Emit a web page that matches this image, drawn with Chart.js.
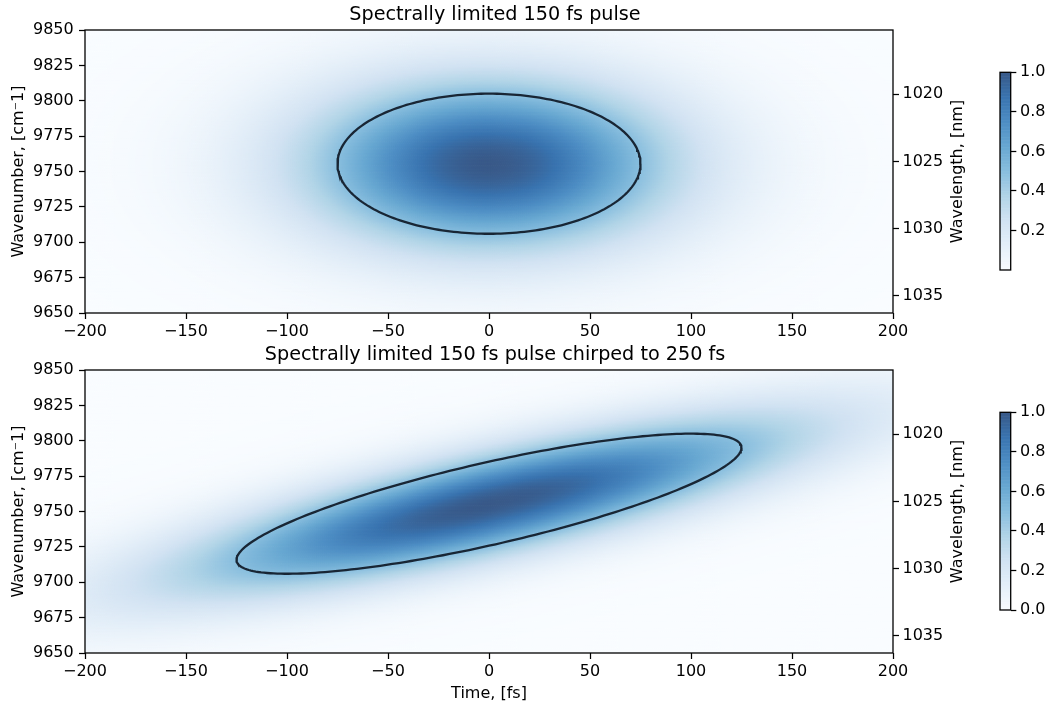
<!DOCTYPE html>
<html><head><meta charset="utf-8">
<script src="https://cdn.jsdelivr.net/npm/chart.js@4.4.1/dist/chart.umd.min.js"></script>
<style>
html,body{margin:0;padding:0;background:#fff;width:1053px;height:709px;overflow:hidden;position:relative;}
canvas{position:absolute;}
</style></head><body>
<canvas id="p1" width="990" height="345" style="left:0;top:0"></canvas>
<canvas id="p2" width="990" height="369" style="left:0;top:340px"></canvas>
<canvas id="cb1" width="73" height="240" style="left:980px;top:50px"></canvas>
<canvas id="cb2" width="73" height="240" style="left:980px;top:390px"></canvas>
<script>
// ---------- data ----------
const panelTitles = ['Spectrally limited 150 fs pulse', 'Spectrally limited 150 fs pulse chirped to 250 fs'];
const timeRange = [-200, 200];                 // fs
const wavenumberRange = [9650, 9850];          // cm^-1
const timeTicks = [-200, -150, -100, -50, 0, 50, 100, 150, 200];
const wavenumberTicks = [9650, 9675, 9700, 9725, 9750, 9775, 9800, 9825, 9850];
const wavelengthTicks = [1020, 1025, 1030, 1035];
const colorbarTicks = [[0.2, 0.4, 0.6, 0.8, 1.0], [0.0, 0.2, 0.4, 0.6, 0.8, 1.0]];
const colorbarMin = [0.0003, 0.0];
const centerTime = 0;                          // fs
const centerWavenumber = 9755.5;               // cm^-1
const transformLimitedFWHM = 150;              // fs
const pulseFWHM = [150, 250];                  // fs, per panel
const spectralFWHM = 99;                       // cm^-1
const timeStep = 1, wavenumberStep = 1;        // heatmap cell size

// ---------- helpers ----------
Chart.defaults.font.family = "'DejaVu Sans', sans-serif";
Chart.defaults.font.size = 16;
Chart.defaults.color = '#000';

const BLUES = [[247,251,255],[222,235,247],[198,219,239],[158,202,225],[107,174,214],[66,146,198],[33,113,181],[8,81,156],[8,48,107]];
const cmapAlpha = 0.8;
function cmap(f) {
  f = Math.min(1, Math.max(0, f));
  const p = f * (BLUES.length - 1);
  const k = Math.min(BLUES.length - 2, Math.floor(p));
  const u = p - k;
  const c = BLUES[k].map((v, j) => v + (BLUES[k + 1][j] - v) * u);
  return 'rgb(' + c.map(v => Math.round(v * cmapAlpha + 255 * (1 - cmapAlpha))).join(',') + ')';
}
function pulseModel(i) {
  const a0 = transformLimitedFWHM / 2, B = spectralFWHM / 2;
  const a = pulseFWHM[i] / 2;
  const b = B * a0 / a;
  const beta = Math.sqrt(Math.max(0, B * B - b * b)) / a;
  return {a, b, beta};
}
function intensity(m, t, w) {
  const dt = t - centerTime;
  const dw = w - centerWavenumber - m.beta * dt;
  return Math.exp(-Math.LN2 * (dt * dt / (m.a * m.a) + dw * dw / (m.b * m.b)));
}
const timeGrid = [];
for (let t = timeRange[0]; t <= timeRange[1]; t += timeStep) timeGrid.push(t);
const wavenumberGrid = [];
for (let w = wavenumberRange[0]; w <= wavenumberRange[1]; w += wavenumberStep) wavenumberGrid.push(w);

function halfMaxContour(i) {
  const m = pulseModel(i), pts = [];
  for (let k = 0; k <= 240; k++) {
    const th = 2 * Math.PI * k / 240;
    const t = centerTime + m.a * Math.cos(th);
    pts.push({x: t, y: centerWavenumber + m.beta * (t - centerTime) + m.b * Math.sin(th)});
  }
  return pts;
}
const minus = v => (v < 0 ? '\u2212' + Math.abs(v) : String(v));

function heatmapPlugin(i) {
  const m = pulseModel(i);
  return {
    id: 'heatmap' + i,
    beforeDatasetsDraw(chart) {
      const {ctx, chartArea: ca, scales: {x, y}} = chart;
      ctx.save();
      ctx.beginPath(); ctx.rect(ca.left, ca.top, ca.right - ca.left, ca.bottom - ca.top); ctx.clip();
      const vmin = colorbarMin[i];
      const xe = timeGrid.map(t => [x.getPixelForValue(t - timeStep / 2), x.getPixelForValue(t + timeStep / 2)]);
      for (const w of wavenumberGrid) {
        const y0 = y.getPixelForValue(w + wavenumberStep / 2), y1 = y.getPixelForValue(w - wavenumberStep / 2);
        timeGrid.forEach((t, k) => {
          const v = intensity(m, t, w);
          ctx.fillStyle = cmap((v - vmin) / (1 - vmin));
          ctx.fillRect(xe[k][0], y0, xe[k][1] - xe[k][0] + 0.7, y1 - y0 + 0.7);
        });
      }
      ctx.restore();
    }
  };
}
const framePlugin = {
  id: 'frame',
  afterDatasetsDraw(chart) {
    const {ctx, chartArea: ca} = chart;
    ctx.save(); ctx.strokeStyle = '#000'; ctx.lineWidth = 1.3;
    ctx.strokeRect(ca.left, ca.top, ca.right - ca.left, ca.bottom - ca.top);
    ctx.restore();
  }
};
const rightTitlePlugin = {
  id: 'rightTitle',
  afterDraw(chart) {
    const {ctx, chartArea: ca} = chart;
    ctx.save();
    ctx.translate(957.4, (ca.top + ca.bottom) / 2);
    ctx.rotate(-Math.PI / 2);
    ctx.font = "16px 'DejaVu Sans'";
    ctx.fillStyle = '#000'; ctx.textAlign = 'center'; ctx.textBaseline = 'middle';
    ctx.fillText('Wavelength, [nm]', 0, 0);
    ctx.restore();
  }
};
const tickGrid = {drawOnChartArea: false, drawTicks: true, tickLength: 6, tickWidth: 1.25, tickColor: '#000'};

function panel(id, i, H) {
  new Chart(document.getElementById(id), {
    type: 'scatter',
    data: {datasets: [{data: halfMaxContour(i), showLine: true, borderColor: 'rgba(15,25,38,0.92)', borderWidth: 2.3,
      pointRadius: 0, fill: false, tension: 0}]},
    options: {
      responsive: false, animation: false, events: [],
      layout: {padding: 0},
      plugins: {
        legend: {display: false}, tooltip: {enabled: false},
        title: {display: true, text: panelTitles[i], color: '#000',
          font: {size: 19.2, weight: 'normal'}, padding: {top: 3.5, bottom: 3.46}}
      },
      scales: {
        x: {type: 'linear', position: 'bottom', min: timeRange[0], max: timeRange[1],
          afterBuildTicks: s => { s.ticks = timeTicks.map(v => ({value: v})); },
          ticks: {padding: 3.3, autoSkip: false, maxRotation: 0, callback: v => minus(v)},
          grid: tickGrid, border: {display: false},
          title: {display: i === 1, text: 'Time, [fs]', padding: {top: 0, bottom: 5.8}},
          afterFit: s => { s.height = H - 313; }},
        y: {type: 'linear', position: 'left', min: wavenumberRange[0], max: wavenumberRange[1],
          afterBuildTicks: s => { s.ticks = wavenumberTicks.map(v => ({value: v})); },
          ticks: {padding: 5.3, autoSkip: false, callback: v => String(v)},
          grid: tickGrid, border: {display: false},
          title: {display: true, text: 'Wavenumber, [cm\u207B1]', padding: {top: 9.5, bottom: 0}},
          afterFit: s => { s.width = 85; }},
        yw: {type: 'linear', position: 'right', reverse: true,
          min: 1e7 / wavenumberRange[1], max: 1e7 / wavenumberRange[0],
          afterBuildTicks: s => { s.ticks = wavelengthTicks.map(v => ({value: v})); },
          ticks: {padding: 3.5, autoSkip: false, callback: v => String(v)},
          grid: tickGrid, border: {display: false},
          afterFit: s => { s.width = 990 - 893; }}
      }
    },
    plugins: [heatmapPlugin(i), framePlugin, rightTitlePlugin]
  });
}

function gradientPlugin(i) {
  return {
    id: 'grad' + i,
    beforeDatasetsDraw(chart) {
      const {ctx, chartArea: ca, scales: {y}} = chart;
      const vmin = colorbarMin[i], n = 256;
      ctx.save();
      for (let k = 0; k < n; k++) {
        const v0 = vmin + (1 - vmin) * k / n, v1 = vmin + (1 - vmin) * (k + 1) / n;
        const p0 = y.getPixelForValue(v0), p1 = y.getPixelForValue(v1);
        ctx.fillStyle = cmap((v0 + v1) / 2 - vmin);
        ctx.fillRect(ca.left, p1, ca.right - ca.left, p0 - p1 + 0.6);
      }
      ctx.restore();
    }
  };
}
function colorbar(id, i) {
  new Chart(document.getElementById(id), {
    type: 'scatter', data: {datasets: []},
    options: {
      responsive: false, animation: false, events: [],
      layout: {padding: {left: 20, top: 22.3, bottom: 20, right: 0}},
      plugins: {legend: {display: false}, tooltip: {enabled: false}},
      scales: {
        x: {display: false, min: 0, max: 1},
        y: {position: 'right', min: colorbarMin[i], max: 1,
          afterBuildTicks: s => { s.ticks = colorbarTicks[i].map(v => ({value: v})); },
          ticks: {padding: 3.7, autoSkip: false, callback: v => v.toFixed(1)},
          grid: {drawOnChartArea: false, drawTicks: true, tickLength: 5.6, tickWidth: 1.25, tickColor: '#000'},
          border: {display: false},
          afterFit: s => { s.width = 73 - 30.7; }}
      }
    },
    plugins: [gradientPlugin(i), framePlugin]
  });
}

panel('p1', 0, 345);
panel('p2', 1, 369);
colorbar('cb1', 0);
colorbar('cb2', 1);
</script>
</body></html>
